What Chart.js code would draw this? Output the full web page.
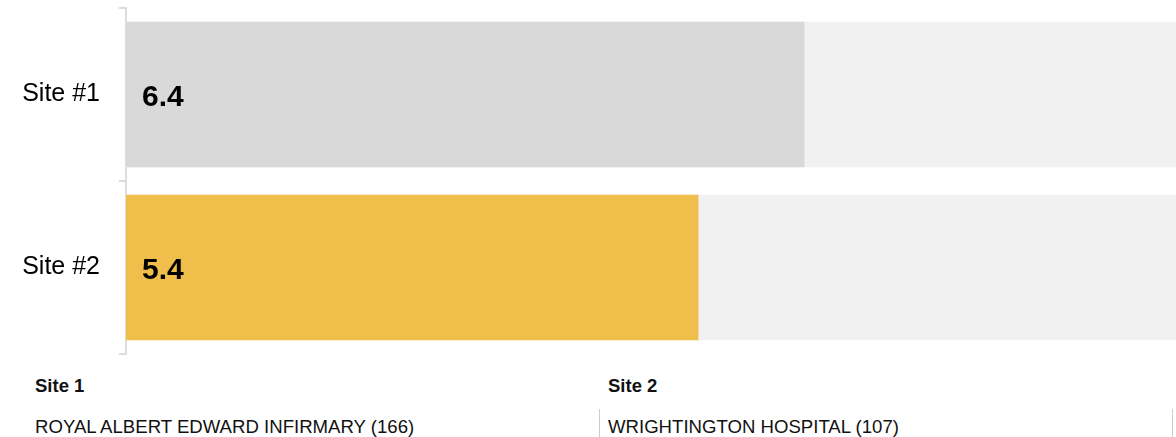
<!doctype html>
<html lang="en">
<head>
<meta charset="utf-8"/>
<title>Site comparison</title>
<style>
  html,body{margin:0;background:#fff;font-family:'Liberation Sans',Arial,sans-serif;color:#111;overflow:hidden}
  .chart{position:relative;width:1186px;height:362px}
  .sites{position:relative;width:1176px;height:75px}
  .col{position:absolute;top:0;height:75px}
  .col h5{margin:0;position:absolute;top:14px;line-height:20px;font-size:18.5px;font-weight:700;color:#111}
  .col .nm{position:absolute;top:47px;height:20px;padding-top:8px;line-height:20px;font-size:18.6px;color:#111;white-space:nowrap}
  .c1{left:35px;width:564px}
  .c2{left:599px;width:574px}
  .c2 h5{left:9px}
  .c2 .nm{left:0;padding-left:8px;border-left:1px solid #ccc}
  .c2 .edge{position:absolute;right:0;top:47px;height:28px;border-right:1px solid #ccc}
</style>
<script src="https://cdn.jsdelivr.net/npm/chart.js@4.4.0/dist/chart.umd.min.js"></script>
</head>
<body>
<div class="chart"><canvas id="bars"></canvas></div>
<div class="sites">
  <div class="col c1"><h5>Site 1</h5><div class="nm">ROYAL ALBERT EDWARD INFIRMARY (166)</div></div>
  <div class="col c2"><h5>Site 2</h5><div class="nm">WRIGHTINGTON HOSPITAL (107)</div><div class="edge"></div></div>
</div>

<script>
  const labels = ['Site #1', 'Site #2'];
  const scores = [6.4, 5.4];
  const maxScore = 10;
  const track = labels.map(() => maxScore);
  const barColors = ['#d9d9d9', '#f0be4a'];
  const FONT = '"Liberation Sans", Arial, sans-serif';

  // value text sits just inside the start of each bar
  const valueText = {
    id: 'valueText',
    afterDatasetsDraw(chart) {
      const { ctx } = chart;
      const meta = chart.getDatasetMeta(0);
      ctx.save();
      ctx.font = 'bold 30px ' + FONT;
      ctx.fillStyle = '#000';
      ctx.textBaseline = 'middle';
      meta.data.forEach((bar, i) => {
        ctx.fillText(scores[i].toFixed(1), bar.base + 16, bar.y + 3);
      });
      ctx.restore();
    }
  };

  new Chart(document.getElementById('bars'), {
    type: 'bar',
    data: {
      labels,
      datasets: [
        { data: scores, backgroundColor: barColors, grouped: false, order: 0,
          categoryPercentage: 1, barPercentage: 0.84 },
        { data: track, backgroundColor: '#f1f1f1', grouped: false, order: 1,
          categoryPercentage: 1, barPercentage: 0.84 }
      ]
    },
    options: {
      indexAxis: 'y',
      responsive: true,
      maintainAspectRatio: false,
      animation: false,
      layout: { padding: { top: 8, bottom: 8, left: 0, right: 0 } },
      plugins: { legend: { display: false }, tooltip: { enabled: false } },
      scales: {
        x: { display: false, min: 0, max: maxScore },
        y: {
          afterFit(scale) {
            scale.width = 126;
            scale.paddingTop = 0;
            scale.paddingBottom = 0;
          },
          border: { color: '#dddddd', width: 2 },
          grid: { drawOnChartArea: false, color: '#dddddd', lineWidth: 2, tickLength: 7, offset: true },
          ticks: { color: '#000', padding: 19, font: { size: 25, family: FONT } }
        }
      }
    },
    plugins: [valueText]
  });
</script>
</body>
</html>
